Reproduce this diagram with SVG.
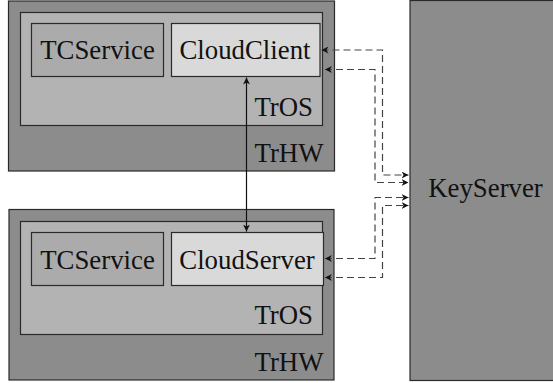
<svg xmlns="http://www.w3.org/2000/svg" width="553" height="383" viewBox="0 0 553 383">
  <defs>
    <marker id="tip" viewBox="0 0 10 10" refX="10" refY="5" markerWidth="7" markerHeight="7" markerUnits="userSpaceOnUse" orient="auto-start-reverse">
      <path d="M0,0 L10,5 L0,10 L3,5 Z" fill="#111"/>
    </marker>
    <style>
      rect { stroke: #2a2a2a; stroke-width: 1.2; }
      .hw { fill: #8c8c8c; }
      .os { fill: #b3b3b3; }
      .svc { fill: #ababab; }
      .app { fill: #d9d9d9; }
      text { font-family: "Liberation Serif", "Times New Roman", serif; font-size: 26.8px; fill: #111; }
      .mid { text-anchor: middle; }
      .end { text-anchor: end; }
      .dash { fill: none; stroke: #444; stroke-width: 1.2; stroke-dasharray: 7 4; marker-start: url(#tip); marker-end: url(#tip); }
      .solid { fill: none; stroke: #111; stroke-width: 1.2; marker-start: url(#tip); marker-end: url(#tip); }
    </style>
  </defs>

  <!-- key server, running past the right edge -->
  <g id="keyserver">
    <rect class="hw" x="410" y="0.5" width="150" height="380"/>
    <text class="mid" x="485.5" y="197">KeyServer</text>
  </g>

  <!-- upper machine -->
  <g id="trhw-top">
    <rect class="hw" x="8.5" y="1" width="326" height="170"/>
    <text class="end" x="323.5" y="162">TrHW</text>
  </g>
  <g id="tros-top">
    <rect class="os" x="20.5" y="12.5" width="302" height="113"/>
    <text class="end" x="313" y="116">TrOS</text>
  </g>
  <g id="tcservice-top">
    <rect class="svc" x="31.5" y="23.5" width="132" height="53"/>
    <text class="mid" x="97.5" y="58.5">TCService</text>
  </g>
  <g id="cloudclient">
    <rect class="app" x="171.5" y="23.5" width="148.5" height="53"/>
    <text class="mid" x="245" y="58.5">CloudClient</text>
  </g>

  <!-- lower machine -->
  <g id="trhw-bottom">
    <rect class="hw" x="9" y="209.5" width="325" height="170.5"/>
    <text class="end" x="323.5" y="370.5">TrHW</text>
  </g>
  <g id="tros-bottom">
    <rect class="os" x="20.5" y="221.5" width="302" height="113"/>
    <text class="end" x="313" y="324">TrOS</text>
  </g>
  <g id="tcservice-bottom">
    <rect class="svc" x="31.5" y="232.5" width="132" height="53"/>
    <text class="mid" x="97.5" y="268.5">TCService</text>
  </g>
  <g id="cloudserver">
    <rect class="app" x="171.5" y="232.5" width="152" height="53"/>
    <text class="mid" x="247" y="268.5">CloudServer</text>
  </g>

  <!-- connectors -->
  <g id="connectors">
    <path class="solid" d="M246.5,77.5 L246.5,231.5"/>
    <path class="dash" d="M321.5,50 H382.5 V175 H408.5"/>
    <path class="dash" d="M325,69.5 H375 V182.5 H408.5"/>
    <path class="dash" d="M325,258.5 H375 V197.5 H408.5"/>
    <path class="dash" d="M325,277.5 H382.5 V205.5 H408.5"/>
  </g>
</svg>
